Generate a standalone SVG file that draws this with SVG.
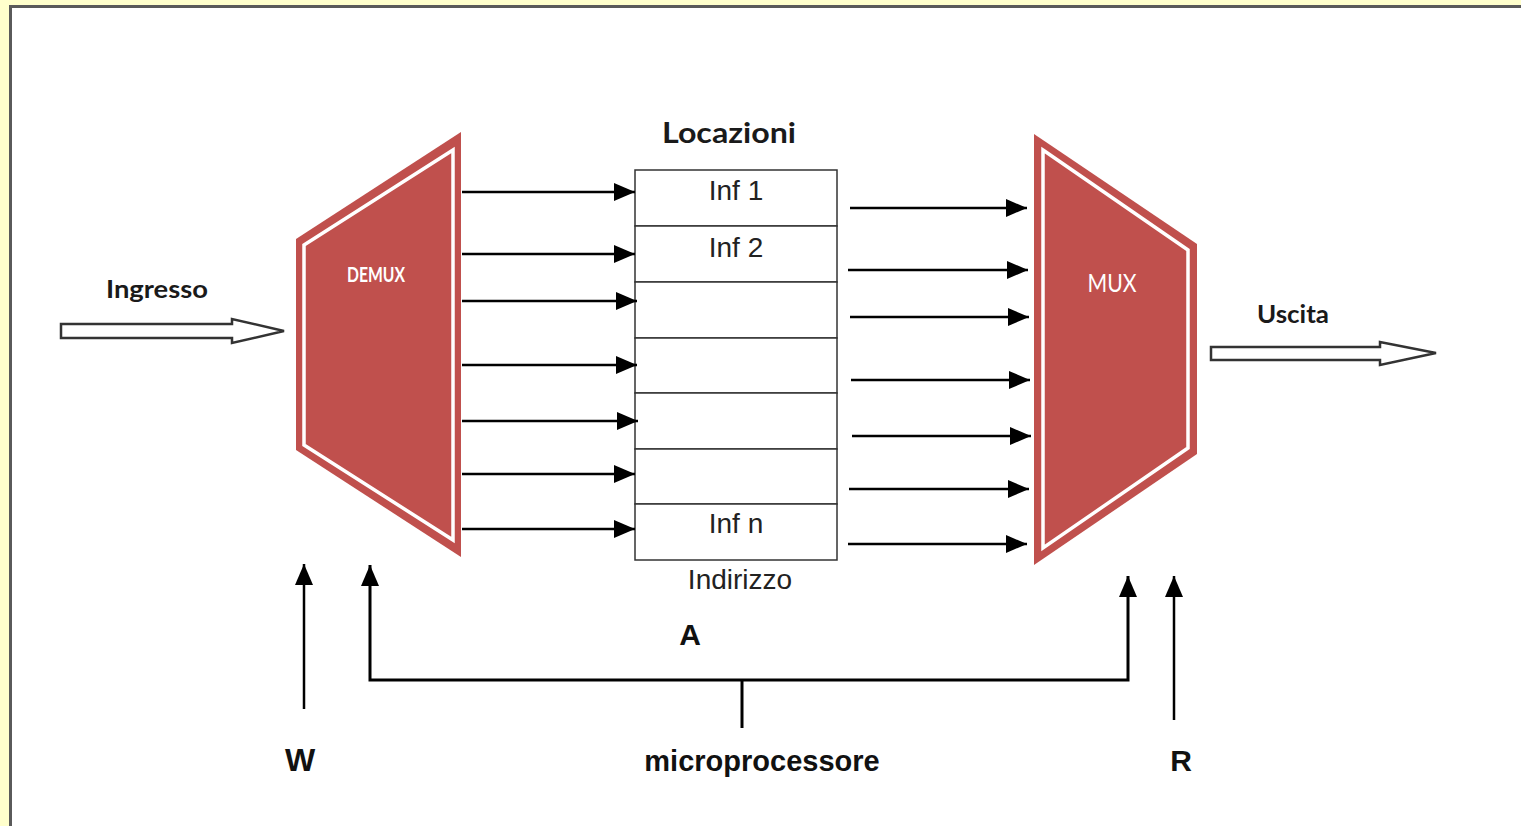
<svg xmlns="http://www.w3.org/2000/svg" width="1521" height="826" viewBox="0 0 1521 826">
<defs>
<style>
.blk{fill:none;stroke:#000;stroke-width:2.5}
.bar{fill:none;stroke:#000;stroke-width:3}
.cell{fill:#fff;stroke:#333;stroke-width:1.5}
.hollow{fill:#fff;stroke:#333;stroke-width:2.5;stroke-linejoin:miter}
.red{fill:#c0504d}
.inner{fill:none;stroke:#fff;stroke-width:3.5}
.cal{font-family:Lato,"Open Sans",sans-serif;font-weight:bold;fill:#1a1a1a}
.ar{font-family:"Liberation Sans",Arial,sans-serif;fill:#222}
.arb{font-family:"Liberation Sans",Arial,sans-serif;font-weight:bold;fill:#111}
</style>
<marker id="ah" markerUnits="userSpaceOnUse" markerWidth="22" markerHeight="22" refX="21" refY="10" orient="auto">
<path d="M0,1 L21,10 L0,19 z" fill="#000"/>
</marker>
</defs>
<rect x="0" y="0" width="1521" height="826" fill="#ffffcc"/>
<rect x="10.5" y="6.5" width="1600" height="900" fill="#fff" stroke="#5a5a5a" stroke-width="3"/>

<g id="demux">
<polygon class="red" points="296,239 461,132 461,557 296,450"/>
<polygon class="inner" points="304,245 453,150 453,540 304,445"/>
<text class="cal" x="376" y="282" font-size="20" style="fill:#fff" text-anchor="middle" textLength="58" lengthAdjust="spacingAndGlyphs">DEMUX</text>
</g>

<g id="mux">
<polygon class="red" points="1034,134 1197,244 1197,454 1034,565"/>
<polygon class="inner" points="1043,150 1188,250 1188,448 1043,548"/>
<text x="1112" y="292" font-family="Lato,'Open Sans',sans-serif" font-size="25" fill="#fff" text-anchor="middle" textLength="49" lengthAdjust="spacingAndGlyphs">MUX</text>
</g>

<g id="locazioni">
<text class="cal" x="729" y="143" font-size="28" text-anchor="middle" textLength="134" lengthAdjust="spacingAndGlyphs">Locazioni</text>
<rect class="cell" x="635" y="170" width="202" height="56"/>
<rect class="cell" x="635" y="226" width="202" height="56"/>
<rect class="cell" x="635" y="282" width="202" height="56"/>
<rect class="cell" x="635" y="338" width="202" height="55"/>
<rect class="cell" x="635" y="393" width="202" height="56"/>
<rect class="cell" x="635" y="449" width="202" height="55"/>
<rect class="cell" x="635" y="504" width="202" height="56"/>
<text class="ar" x="736" y="200" font-size="28" text-anchor="middle">Inf 1</text>
<text class="ar" x="736" y="257" font-size="28" text-anchor="middle">Inf 2</text>
<text class="ar" x="736" y="533" font-size="28" text-anchor="middle">Inf n</text>
<text class="ar" x="740" y="589" font-size="28" text-anchor="middle">Indirizzo</text>
</g>

<g id="ingresso">
<text class="cal" x="157" y="298" font-size="25" text-anchor="middle" textLength="102" lengthAdjust="spacingAndGlyphs">Ingresso</text>
<polygon class="hollow" points="61,324 232,324 232,319 284,331 232,343 232,338 61,338"/>
</g>

<g id="uscita">
<text class="cal" x="1293" y="323" font-size="25" text-anchor="middle" textLength="72" lengthAdjust="spacingAndGlyphs">Uscita</text>
<polygon class="hollow" points="1211,347 1380,347 1380,342 1436,353 1380,365 1380,360 1211,360"/>
</g>

<g id="labels">
<text class="arb" x="690" y="645" font-size="30" text-anchor="middle">A</text>
<text class="arb" x="300" y="771" font-size="32" text-anchor="middle">W</text>
<text class="arb" x="1181" y="771" font-size="30" text-anchor="middle">R</text>
<text class="arb" x="762" y="771" font-size="29" text-anchor="middle">microprocessore</text>
</g>

<g id="connectors">
<line class="blk" x1="462" y1="192" x2="635" y2="192" marker-end="url(#ah)"/>
<line class="blk" x1="462" y1="254" x2="635" y2="254" marker-end="url(#ah)"/>
<line class="blk" x1="462" y1="301" x2="637" y2="301" marker-end="url(#ah)"/>
<line class="blk" x1="462" y1="365" x2="637" y2="365" marker-end="url(#ah)"/>
<line class="blk" x1="462" y1="421" x2="638" y2="421" marker-end="url(#ah)"/>
<line class="blk" x1="462" y1="474" x2="635" y2="474" marker-end="url(#ah)"/>
<line class="blk" x1="462" y1="529" x2="635" y2="529" marker-end="url(#ah)"/>

<line class="blk" x1="850" y1="208" x2="1027" y2="208" marker-end="url(#ah)"/>
<line class="blk" x1="848" y1="270" x2="1028" y2="270" marker-end="url(#ah)"/>
<line class="blk" x1="850" y1="317" x2="1029" y2="317" marker-end="url(#ah)"/>
<line class="blk" x1="851" y1="380" x2="1030" y2="380" marker-end="url(#ah)"/>
<line class="blk" x1="852" y1="436" x2="1031" y2="436" marker-end="url(#ah)"/>
<line class="blk" x1="849" y1="489" x2="1029" y2="489" marker-end="url(#ah)"/>
<line class="blk" x1="848" y1="544" x2="1027" y2="544" marker-end="url(#ah)"/>

<line class="blk" x1="304" y1="709" x2="304" y2="564" marker-end="url(#ah)"/>
<polyline class="bar" points="742,680 370,680 370,565" marker-end="url(#ah)"/>
<polyline class="bar" points="742,680 1128,680 1128,576" marker-end="url(#ah)"/>
<line class="bar" x1="742" y1="680" x2="742" y2="728"/>
<line class="blk" x1="1174" y1="720" x2="1174" y2="576" marker-end="url(#ah)"/>
</g>
</svg>
